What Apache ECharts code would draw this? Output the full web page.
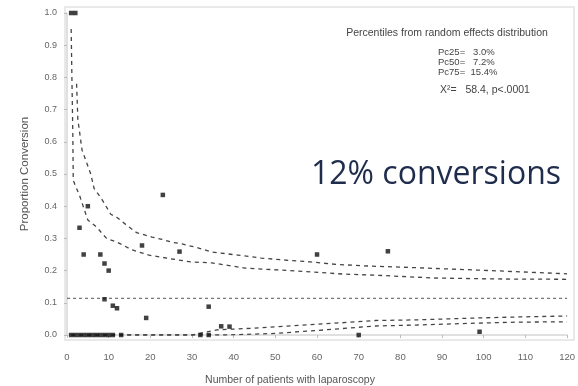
<!DOCTYPE html>
<html>
<head>
<meta charset="utf-8">
<script src="https://cdn.jsdelivr.net/npm/echarts@6/dist/echarts.min.js"></script>
<style>
  html, body { margin: 0; padding: 0; background: #fff; }
  #chart { width: 578px; height: 386px; }
</style>
</head>
<body>
<div id="chart"></div>
<script>
// hospitals: number of laparoscopies and proportion converted
const patients   = [1, 2, 1, 2, 3, 4, 5, 6, 7, 8, 9, 10, 11, 13, 32, 34, 70,
                    3, 4, 5, 8, 9, 10, 9, 11, 12, 18, 19, 23, 27, 34, 37, 39, 60, 77, 99];
const proportion = [1.0, 1.0, 0, 0, 0, 0, 0, 0, 0, 0, 0, 0, 0, 0, 0, 0, 0,
                    0.333, 0.25, 0.4, 0.25, 0.222, 0.2, 0.111, 0.091, 0.083, 0.278, 0.053,
                    0.435, 0.259, 0.088, 0.027, 0.026, 0.25, 0.26, 0.0101];

// overall proportion
const meanRate = 0.114;

// control limits
const upperOuterN = [2.3, 2.6, 3.6, 5.7, 6.5, 8.2, 10.5, 12, 14.2, 16.7, 20.4, 22.8, 25.2, 27.6, 31.6, 34.7, 41, 46.6, 52, 58.4, 64.8, 72.7, 79.8, 91.7, 103.6, 120];
const upperOuterP = [0.78, 0.67, 0.575, 0.5, 0.455, 0.425, 0.375, 0.365, 0.342, 0.318, 0.304, 0.297, 0.288, 0.283, 0.27, 0.258, 0.248, 0.239, 0.233, 0.227, 0.219, 0.214, 0.211, 0.205, 0.199, 0.19];
const upperInnerN = [1, 1.2, 1.4, 1.5, 3.1, 5, 7.1, 9.5, 11.9, 15.7, 19.7, 25.2, 29.7, 34.7, 42.7, 50.6, 58.4, 66.5, 73.6, 87.9, 103.6, 120];
const upperInnerP = [0.95, 0.78, 0.62, 0.48, 0.43, 0.357, 0.335, 0.3, 0.289, 0.264, 0.248, 0.236, 0.227, 0.224, 0.208, 0.202, 0.196, 0.189, 0.186, 0.177, 0.174, 0.173];
const lowerInnerN = [1, 30, 36, 46, 58, 66, 74, 84, 96, 108, 120];
const lowerInnerP = [0, 0, 0.016, 0.022, 0.032, 0.038, 0.045, 0.047, 0.052, 0.056, 0.059];
const lowerOuterN = [1, 38, 50, 62, 74, 84, 96, 108, 120];
const lowerOuterP = [0, 0, 0.005, 0.016, 0.028, 0.031, 0.036, 0.04, 0.041];

const xTicks = [0, 120, 10];
const yTicks = [0, 1, 0.1];

const pairs = (xs, ys) => xs.map((x, i) => [x, ys[i]]);

const chart = echarts.init(document.getElementById('chart'));

const limitLine = (name, xs, ys) => ({
  name: name,
  type: 'line',
  data: pairs(xs, ys),
  showSymbol: false,
  silent: true,
  lineStyle: { color: '#444', width: 1.3, type: [4, 4] },
  z: 2
});

const smallText = '10.5px "Liberation Sans"';
const pcText = '9.5px "Liberation Sans"';

const option = {
  backgroundColor: '#fff',
  animation: false,
  grid: { left: 67, right: 6, top: 13, bottom: 51 },
  xAxis: {
    type: 'value',
    min: xTicks[0], max: xTicks[1], interval: xTicks[2],
    offset: 5,
    axisLine: { lineStyle: { color: '#d6d6d6', width: 1.5 } },
    axisTick: { show: true, length: 3, lineStyle: { color: '#bbb' } },
    axisLabel: { color: '#666', fontSize: 9.5, fontFamily: 'Liberation Sans', margin: 12 },
    splitLine: { show: false }
  },
  yAxis: {
    type: 'value',
    min: yTicks[0], max: yTicks[1], interval: yTicks[2],
    offset: 2,
    name: 'Proportion Conversion',
    nameLocation: 'middle',
    nameGap: 34,
    nameTextStyle: { color: '#555', fontSize: 11.5, fontFamily: 'Liberation Sans' },
    axisLine: { show: true, lineStyle: { color: '#d6d6d6', width: 1.5 } },
    axisTick: { show: true, length: 3, lineStyle: { color: '#bbb' } },
    axisLabel: {
      color: '#666', fontSize: 9, fontFamily: 'Liberation Sans', margin: 8,
      formatter: v => v.toFixed(1)
    },
    splitLine: { show: false }
  },
  graphic: [
    { type: 'rect', shape: { x: 65, y: 7, width: 509, height: 333 },
      style: { fill: 'none', stroke: '#e2e2e2', lineWidth: 1.5 }, z: -1 },
    { type: 'text', x: 290, y: 380,
      style: { text: 'Number of patients with laparoscopy', fill: '#555',
               font: '10.5px "Liberation Sans"', textAlign: 'center', textVerticalAlign: 'middle' } },
    { type: 'text', x: 447, y: 33,
      style: { text: 'Percentiles from random effects distribution', fill: '#444',
               font: smallText, textAlign: 'center', textVerticalAlign: 'middle' } },
    { type: 'text', x: 438, y: 52,
      style: { text: 'Pc25=   3.0%', fill: '#444', font: pcText, textVerticalAlign: 'middle' } },
    { type: 'text', x: 438, y: 62,
      style: { text: 'Pc50=   7.2%', fill: '#444', font: pcText, textVerticalAlign: 'middle' } },
    { type: 'text', x: 438, y: 72,
      style: { text: 'Pc75=  15.4%', fill: '#444', font: pcText, textVerticalAlign: 'middle' } },
    { type: 'text', x: 440, y: 90,
      style: { text: 'X\u00b2=   58.4, p<.0001', fill: '#444', font: smallText, textVerticalAlign: 'middle' } },
    { type: 'text', x: 311, y: 175,
      style: { text: '12% conversions', fill: '#1f2c4c', font: '32px "Open Sans"', textVerticalAlign: 'middle' } }
  ],
  series: [
    limitLine('upper 99.8%', upperOuterN, upperOuterP),
    limitLine('upper 95%', upperInnerN, upperInnerP),
    limitLine('lower 95%', lowerInnerN, lowerInnerP),
    limitLine('lower 99.8%', lowerOuterN, lowerOuterP),
    {
      name: 'mean',
      type: 'line',
      data: [[xTicks[0], meanRate], [xTicks[1], meanRate]],
      showSymbol: false,
      silent: true,
      lineStyle: { color: '#555', width: 1, type: [3, 3] },
      z: 2
    },
    {
      name: 'hospitals',
      type: 'scatter',
      data: pairs(patients, proportion),
      symbol: 'rect',
      symbolSize: 4.5,
      itemStyle: { color: '#111' },
      z: 3
    }
  ]
};

chart.setOption(option);
</script>
</body>
</html>
